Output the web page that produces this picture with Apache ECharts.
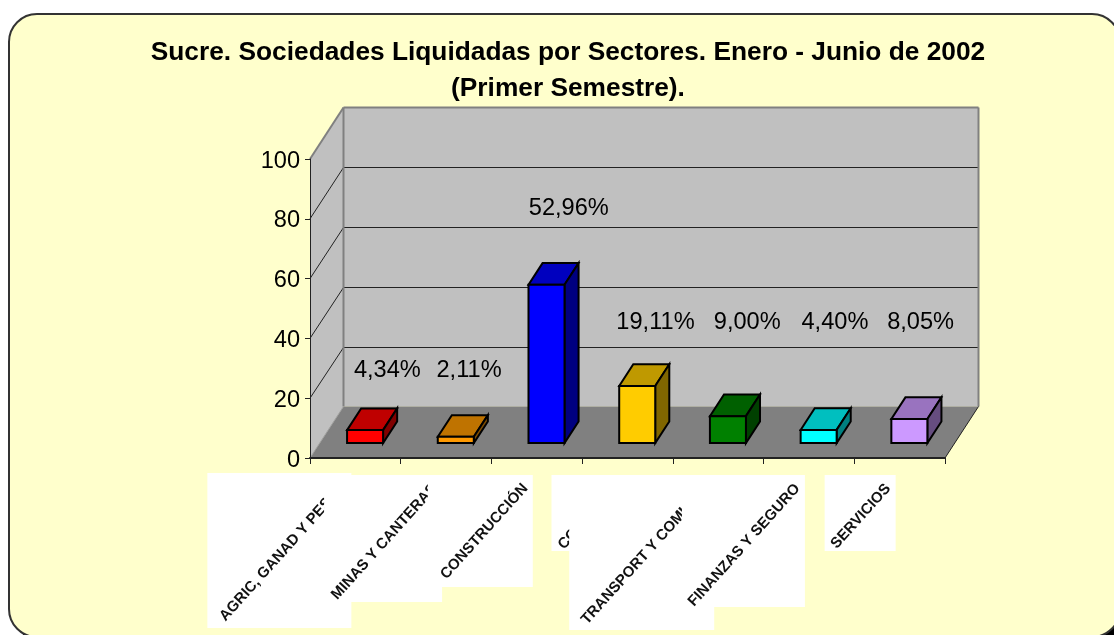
<!DOCTYPE html>
<html>
<head>
<meta charset="utf-8">
<style>html,body{margin:0;padding:0;background:#fff}#c{width:1114px;height:635px}</style>
<script src="https://cdn.jsdelivr.net/npm/echarts@6/dist/echarts.min.js"></script>
</head>
<body>
<div id="c"></div>
<script>
const titleText = 'Sucre. Sociedades Liquidadas por Sectores. Enero - Junio de 2002\n(Primer Semestre).';
const categories = ['AGRIC, GANAD Y PESCA', 'MINAS Y CANTERAS', 'CONSTRUCCIÓN', 'COMERCIO', 'TRANSPORT Y COMUNIC', 'FINANZAS Y SEGURO', 'SERVICIOS'];
const values = [4.34, 2.11, 52.96, 19.11, 9.00, 4.40, 8.05];
const yTicks = [0, 20, 40, 60, 80, 100];

// appearance and layout, kept apart from the data
const barColors = [
  ['#FF0000', '#BF0000', '#800000'],
  ['#FF9900', '#BF7300', '#804D00'],
  ['#0000FF', '#0000BF', '#000080'],
  ['#FFCC00', '#BF9900', '#806600'],
  ['#008000', '#006000', '#004000'],
  ['#00FFFF', '#00BFBF', '#008080'],
  ['#CC99FF', '#9973BF', '#664D80']
];
const labelLevel = [29.8, 29.8, 84, 46, 46, 46, 46];
const labelShift = [32, 23, 32, 28, 29, 26, 21];
const tagSize = [[144, 155], [118, 127], [105, 112], [72, 76], [145, 155], [123, 132], [71, 76]];
const tagTop = [473, 475, 475, 475, 475, 475, 475];
const WALL_DX = 33.5, WALL_DY = -51.5;
const FRONT = 0.29, DEPTH = 0.42, BAR_W = 0.397;

const chart = echarts.init(document.getElementById('c'));

function poly(points, fill, stroke, lw) {
  return { type: 'polygon', shape: { points: points },
    style: { fill: fill, stroke: stroke || null, lineWidth: lw || 0, lineJoin: 'miter' } };
}
function line(a, b, stroke, lw) {
  return { type: 'line', shape: { x1: a[0], y1: a[1], x2: b[0], y2: b[1] },
    style: { stroke: stroke, lineWidth: lw } };
}

function renderWalls(params, api) {
  const g = params.coordSys;
  const L = g.x, R = g.x + g.width, T = g.y, B = g.y + g.height;
  const d = [WALL_DX, WALL_DY];
  const kids = [];
  kids.push(poly([[L, T], [L + d[0], T + d[1]], [L + d[0], B + d[1]], [L, B]], '#C0C0C0'));
  kids.push(poly([[L + d[0], T + d[1]], [R + d[0], T + d[1]], [R + d[0], B + d[1]], [L + d[0], B + d[1]]], '#C0C0C0'));
  kids.push(poly([[L, B], [R, B], [R + d[0], B + d[1]], [L + d[0], B + d[1]]], '#808080'));
  yTicks.slice(1, -1).forEach(function (t) {
    const y = api.coord([0, t])[1];
    const by = Math.round(y + d[1]) + 0.5;
    kids.push(line([L, y], [L + d[0], by], '#222', 1));
    kids.push(line([L + d[0], by], [R + d[0], by], '#222', 1));
  });
  kids.push(line([L, T], [L + d[0], T + d[1]], '#808080', 2));
  kids.push(line([L + d[0], T + d[1]], [R + d[0], T + d[1]], '#808080', 2));
  kids.push(line([L + d[0], T + d[1]], [L + d[0], B + d[1]], '#808080', 2));
  kids.push(line([R + d[0], T + d[1]], [R + d[0], B + d[1]], '#808080', 2));
  kids.push(line([L + d[0], B + d[1]], [L, B], '#A0A0A0', 1));
  kids.push(line([R, B], [R + d[0], B + d[1]], '#222', 1));
  return { type: 'group', children: kids };
}

function renderBar(params, api) {
  const i = api.value(0), v = api.value(1);
  const band = api.size([1, 0])[0];
  const c = api.coord([i, 0]);
  const y1 = api.coord([i, v])[1];
  const ox = WALL_DX * FRONT, oy = WALL_DY * FRONT;
  const dx = WALL_DX * DEPTH, dy = WALL_DY * DEPTH;
  const x0 = c[0] + ox - band * BAR_W / 2, x1 = c[0] + ox + band * BAR_W / 2;
  const b = c[1] + oy, t = y1 + oy;
  const col = barColors[i];
  const s = '#000', w = 2;
  return { type: 'group', children: [
    poly([[x0, t], [x1, t], [x1 + dx, t + dy], [x0 + dx, t + dy]], col[1], s, w),
    poly([[x1, t], [x1 + dx, t + dy], [x1 + dx, b + dy], [x1, b]], col[2], s, w),
    poly([[x0, t], [x1, t], [x1, b], [x0, b]], col[0], s, w)
  ] };
}

function renderValueLabel(params, api) {
  const i = api.value(0);
  const p = api.coord([i, labelLevel[i]]);
  return { type: 'text', x: p[0] + labelShift[i], y: p[1] + 2,
    style: { text: values[i].toFixed(2).replace('.', ',') + '%', fill: '#000',
      font: '23.6px "Liberation Sans", Arial, sans-serif', align: 'center', verticalAlign: 'middle' } };
}

function renderTag(params, api) {
  const i = api.value(0);
  const cx = api.coord([i, 0])[0];
  const right = cx - 4, top = tagTop[i], w = tagSize[i][0], h = tagSize[i][1];
  return { type: 'group', children: [
    { type: 'rect', shape: { x: right - w, y: top, width: w, height: h }, style: { fill: '#fff' } },
    { type: 'text', x: right - 13, y: top + 6, rotation: 48 * Math.PI / 180,
      style: { text: categories[i], fill: '#111',
        font: 'bold 15px "Liberation Sans", Arial, sans-serif', align: 'right', verticalAlign: 'top' } }
  ] };
}

const rows = values.map(function (v, i) { return [i, v]; });

chart.setOption({
  animation: false,
  backgroundColor: '#fff',
  title: {
    text: titleText, left: 563, top: 30, textAlign: 'center',
    textStyle: { fontFamily: '"Liberation Sans", Arial, sans-serif', fontSize: 26.3, fontWeight: 'bold', color: '#000', lineHeight: 36 }
  },
  graphic: { elements: [
    { type: 'rect', z: -20, silent: true, shape: { x: 15, y: 20, width: 1111, height: 623, r: 28 }, style: { fill: '#000' } },
    { type: 'rect', z: -19, silent: true, shape: { x: 9, y: 14, width: 1111, height: 623, r: 28 }, style: { fill: '#FFFFCC', stroke: '#333', lineWidth: 2 } }
  ] },
  grid: { left: 310, right: 169, top: 159, bottom: 177 },
  xAxis: {
    type: 'category', data: categories, z: 2,
    axisLine: { lineStyle: { color: '#222', width: 2 } },
    axisTick: { show: true, length: 6, interval: 0, alignWithLabel: false, lineStyle: { color: '#222', width: 1 } },
    axisLabel: { show: false, interval: 0 }, splitLine: { show: false }
  },
  yAxis: {
    type: 'value', min: 0, max: 100, interval: 20, z: 2,
    axisLine: { show: true, lineStyle: { color: '#222', width: 1 } },
    axisTick: { show: true, length: 5, lineStyle: { color: '#222', width: 1 } },
    axisLabel: {
      margin: 10, color: '#000', formatter: '{a|{value}}',
      rich: { a: { fontSize: 23.6, color: '#000', fontFamily: '"Liberation Sans", Arial, sans-serif', lineHeight: 28, padding: [4, 0, 0, 0] } }
    },
    splitLine: { show: false }
  },
  series: [
    { type: 'custom', name: 'walls', z: 1, silent: true, clip: false, renderItem: renderWalls, data: [[0, 0]], encode: { x: 0, y: 1 } },
    { type: 'custom', name: 'barras', z: 3, clip: false, renderItem: renderBar, data: rows, encode: { x: 0, y: 1 } },
    { type: 'custom', name: 'porcentajes', z: 4, silent: true, clip: false, renderItem: renderValueLabel, data: rows, encode: { x: 0, y: 1 } },
    { type: 'custom', name: 'sectores', z: 4, silent: true, clip: false, renderItem: renderTag, data: rows, encode: { x: 0, y: 1 } }
  ]
});
</script>
</body>
</html>
